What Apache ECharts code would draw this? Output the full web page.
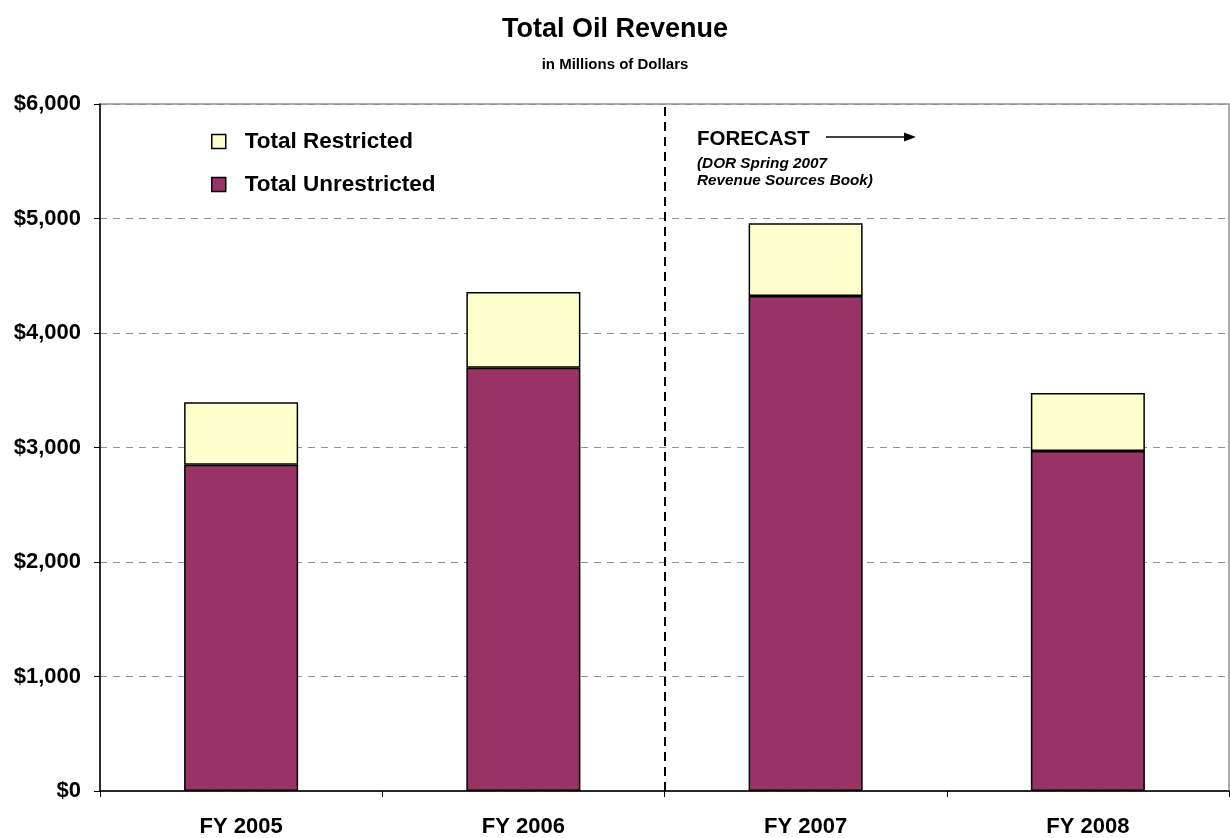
<!DOCTYPE html>
<html>
<head>
<meta charset="utf-8">
<script src="https://cdn.jsdelivr.net/npm/echarts@6/dist/echarts.min.js"></script>
<style>
  html, body { margin: 0; padding: 0; background: #fff; }
  #chart { width: 1230px; height: 838px; }
</style>
</head>
<body>
<div id="chart"></div>
<script>
const years = ["FY 2005", "FY 2006", "FY 2007", "FY 2008"];
const unrestricted = [2850, 3697, 4323, 2969];
const restricted = [545, 661, 635, 507];
const yTicks = [0, 1000, 2000, 3000, 4000, 5000, 6000];
// 预测从第3个类目 (FY 2007) 开始
const forecastStart = 2;

const font = "'Liberation Sans', Arial, sans-serif";
const chart = echarts.init(document.getElementById("chart"));

chart.setOption({
  animation: false,
  title: [
    {
      text: "Total Oil Revenue",
      left: "center",
      top: 11,
      textStyle: { fontFamily: font, fontSize: 27, fontWeight: "bold", color: "#000" },
    },
    {
      text: "in Millions of Dollars",
      left: "center",
      top: 52,
      textStyle: { fontFamily: font, fontSize: 15, fontWeight: "bold", color: "#000" },
    },
  ],
  legend: {
    orient: "vertical",
    left: 206,
    top: 125,
    itemGap: 20,
    itemWidth: 14,
    itemHeight: 14,
    icon: "rect",
    data: ["Total Restricted", "Total Unrestricted"],
    itemStyle: { borderColor: "#000", borderWidth: 1.5 },
    textStyle: { fontFamily: font, fontSize: 22.5, fontWeight: "bold", color: "#000", padding: [0, 0, 0, 14] },
  },
  grid: {
    left: 100,
    right: 1,
    top: 104,
    bottom: 47,
    show: true,
    borderColor: "#909090",
    borderWidth: 1.5,
  },
  xAxis: [
    {
      type: "category",
      data: years,
      axisLine: { lineStyle: { color: "#000", width: 1.5 } },
      axisTick: { show: true, length: 6, lineStyle: { color: "#000" } },
      axisLabel: { fontFamily: font, fontSize: 22, fontWeight: "bold", color: "#000", margin: 25 },
    },
    {
      // 隐藏的数值轴，用来放预测分隔线
      type: "value",
      min: 0,
      max: years.length,
      show: false,
    },
  ],
  yAxis: {
    type: "value",
    min: yTicks[0],
    max: yTicks[yTicks.length - 1],
    interval: 1000,
    axisLine: { show: true, lineStyle: { color: "#000", width: 1.5 } },
    axisTick: { show: true, length: 6, lineStyle: { color: "#000" } },
    axisLabel: {
      fontFamily: font,
      fontSize: 22,
      fontWeight: "bold",
      color: "#000",
      margin: 19,
      formatter: (v) => "$" + v.toLocaleString("en-US"),
    },
    splitLine: {
      show: true,
      lineStyle: { color: "#909090", type: [7, 6], width: 1 },
    },
  },
  series: [
    {
      name: "Total Unrestricted",
      type: "bar",
      stack: "total",
      data: unrestricted,
      barWidth: "40.4%",
      itemStyle: { color: "#993366", borderColor: "#000", borderWidth: 1.5 },
    },
    {
      name: "Total Restricted",
      type: "bar",
      stack: "total",
      data: restricted,
      itemStyle: { color: "#FFFFCC", borderColor: "#000", borderWidth: 1.5 },
    },
    {
      name: "forecast",
      type: "scatter",
      xAxisIndex: 1,
      data: [],
      markLine: {
        silent: true,
        symbol: "none",
        label: { show: false },
        lineStyle: { color: "#000", type: [9, 6], width: 2 },
        data: [{ xAxis: forecastStart }],
      },
    },
  ],
  graphic: [
    {
      type: "text",
      left: 697,
      top: 129,
      style: { text: "FORECAST", fontFamily: font, fontSize: 20.5, fontWeight: "bold", fill: "#000" },
    },
    {
      type: "line",
      shape: { x1: 826, y1: 137, x2: 906, y2: 137 },
      style: { stroke: "#000", lineWidth: 1.5 },
    },
    {
      type: "polygon",
      shape: { points: [[904, 132.5], [916, 137], [904, 141.5]] },
      style: { fill: "#000" },
    },
    {
      type: "text",
      left: 697,
      top: 155,
      style: {
        text: "(DOR Spring 2007\nRevenue Sources Book)",
        fontFamily: font,
        fontSize: 15.3,
        fontWeight: "bold",
        fontStyle: "italic",
        lineHeight: 17,
        fill: "#000",
      },
    },
  ],
});
</script>
</body>
</html>
